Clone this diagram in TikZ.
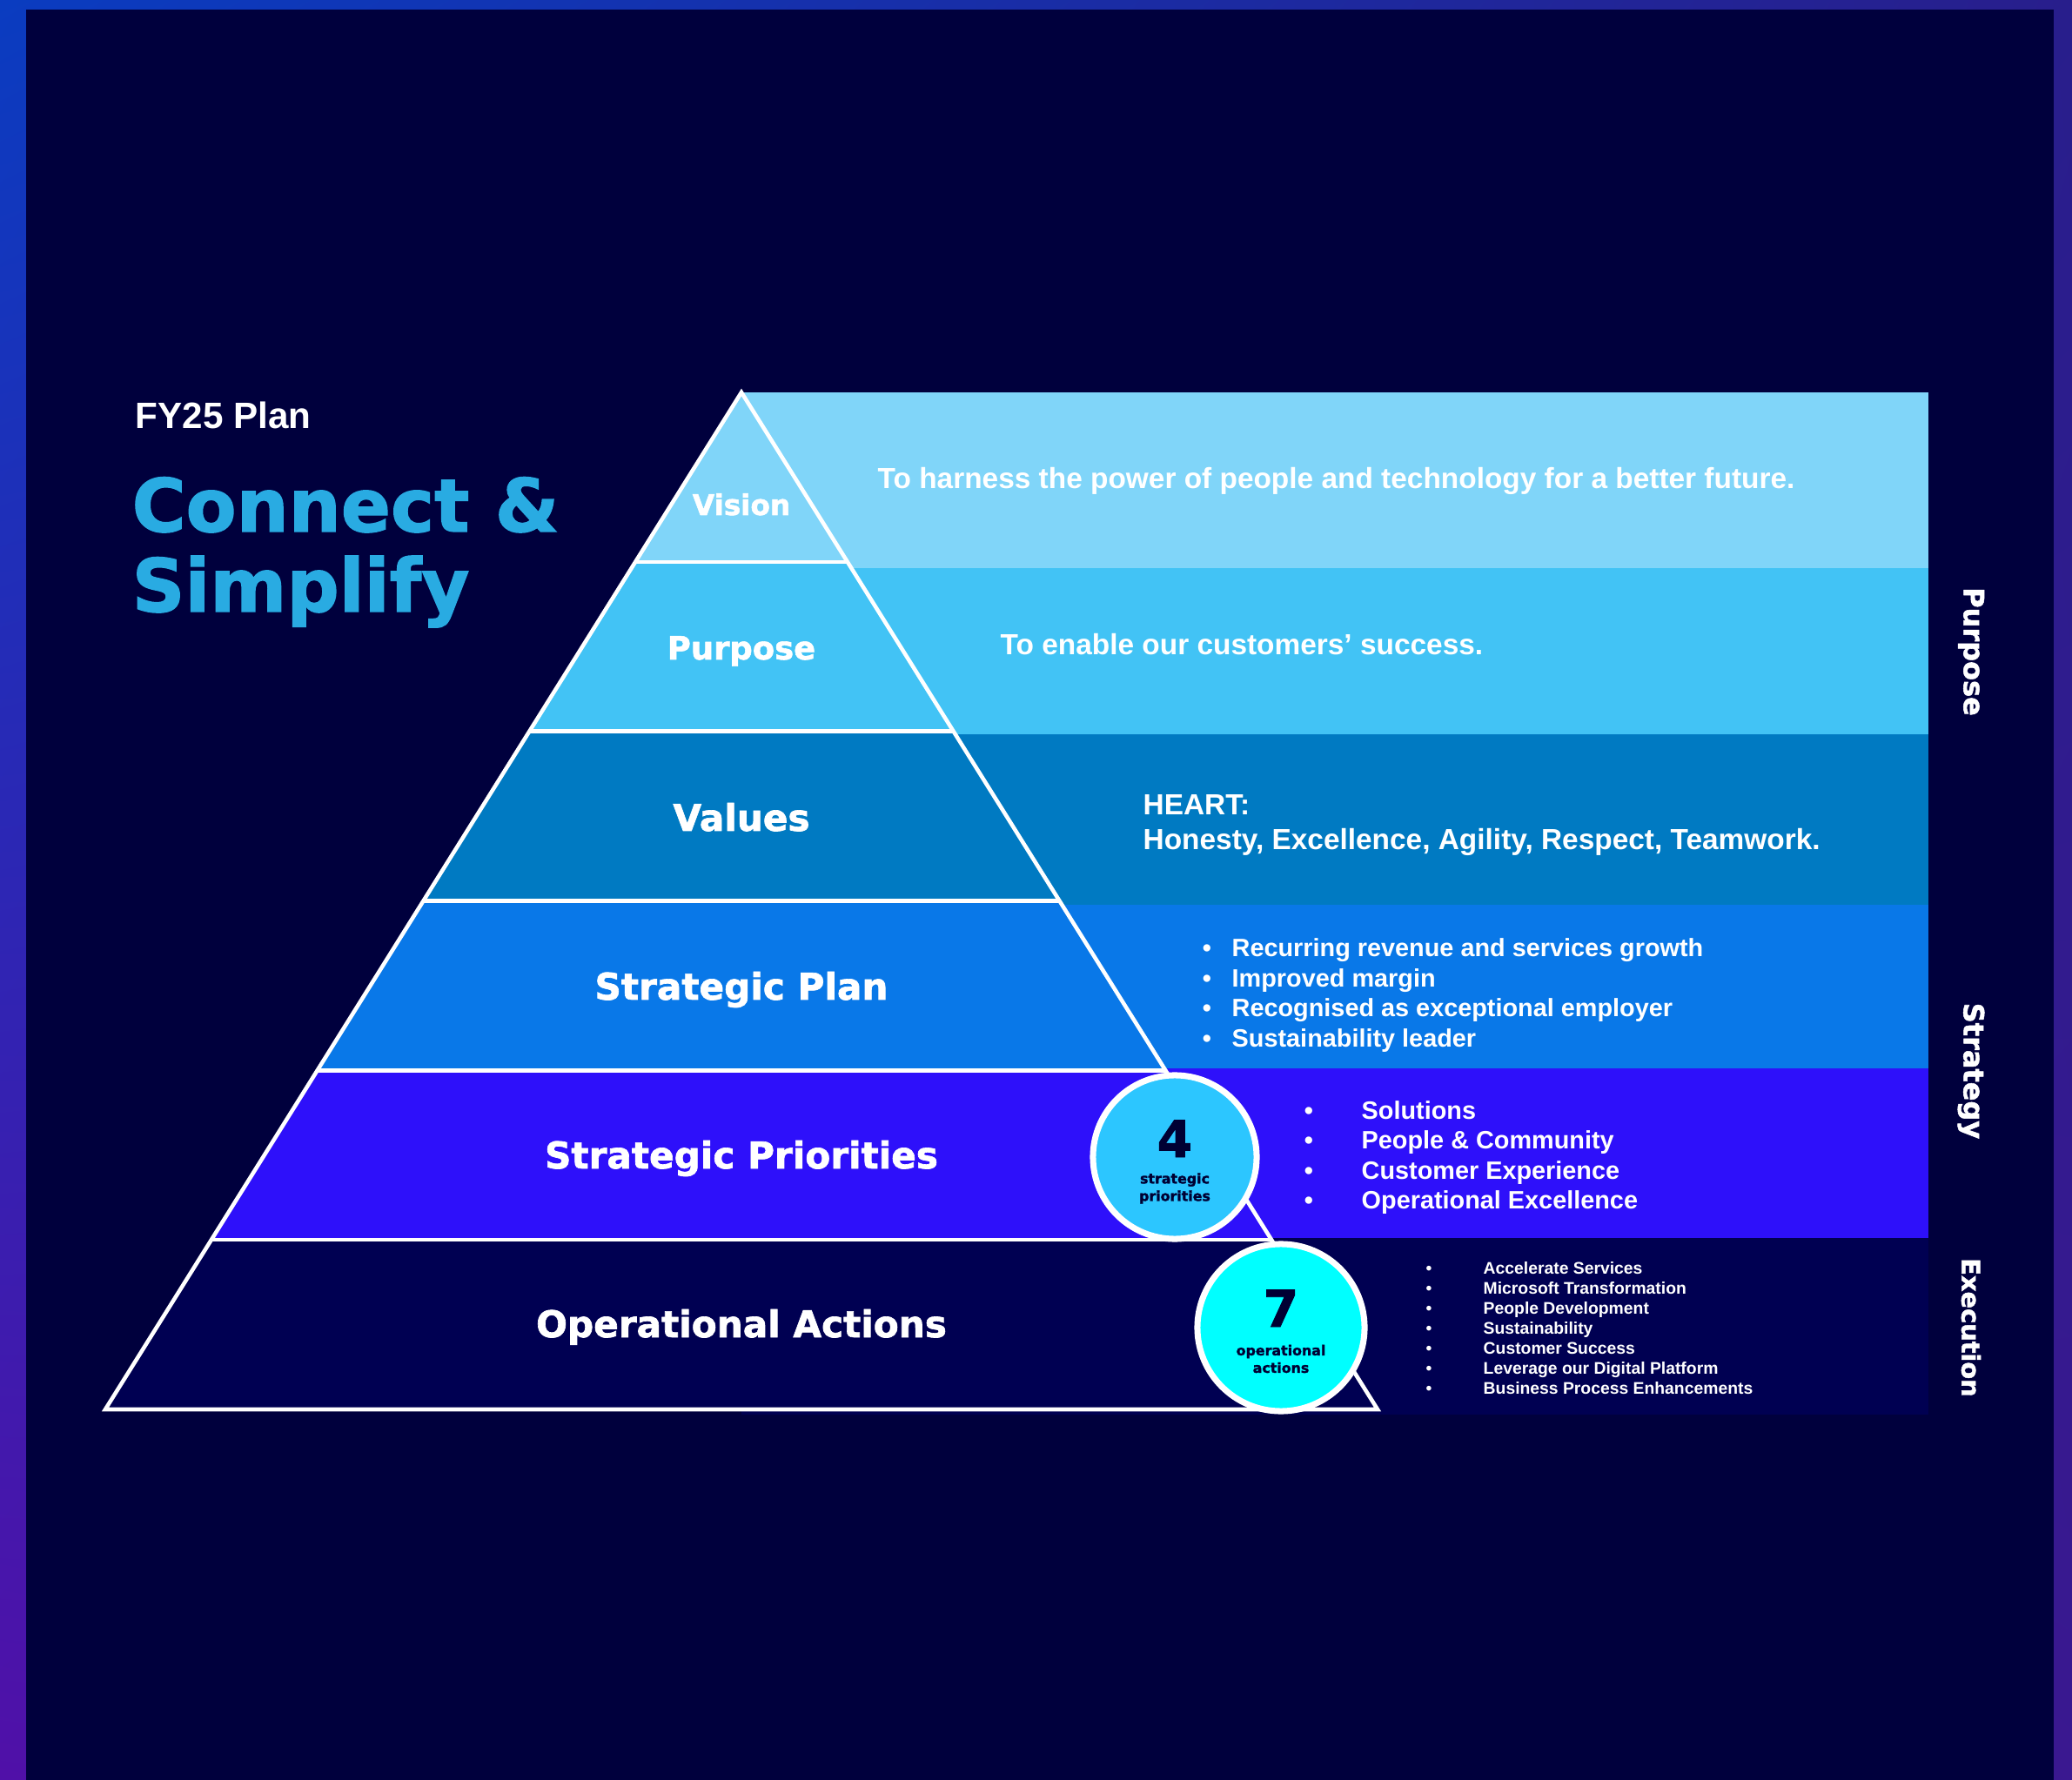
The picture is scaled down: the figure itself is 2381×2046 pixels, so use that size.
\documentclass[tikz,border=0pt]{standalone}
\usepackage{fontspec}
\setmainfont{Liberation Sans}
\newfontfamily\heavyfont{DejaVu Sans}[BoldFeatures={FakeBold=1.6}]
\usetikzlibrary{calc,shadings}

\definecolor{navy}{HTML}{00003D}
\definecolor{opsnavy}{HTML}{000052}
\definecolor{visioncol}{HTML}{80D5F9}
\definecolor{purposecol}{HTML}{42C3F5}
\definecolor{valuescol}{HTML}{007AC2}
\definecolor{plancol}{HTML}{0978E8}
\definecolor{priocol}{HTML}{2E10FA}
\definecolor{titlecol}{HTML}{29ABE2}
\definecolor{fourcol}{HTML}{2CC6FF}
\definecolor{sevencol}{HTML}{00FFFF}
\definecolor{inkcol}{HTML}{000033}
\definecolor{frametl}{HTML}{0A3CC0}
\definecolor{frametr}{HTML}{281E8C}
\definecolor{framebl}{HTML}{5010A8}
\definecolor{framebr}{HTML}{3A1890}

\begin{document}
\begin{tikzpicture}[x=0.01cm,y=-0.01cm,
    every node/.style={text=white,inner sep=0pt},
    layerlabel/.style={anchor=base,font=\heavyfont\bfseries\fontsize{12}{14}\selectfont},
    bandtext/.style={anchor=base west,font=\bfseries\fontsize{9.5}{11}\selectfont},
    plantext/.style={anchor=base west,font=\bfseries\fontsize{8.2}{10}\selectfont},
    priotext/.style={anchor=base west,font=\bfseries\fontsize{8.2}{10}\selectfont},
    opstext/.style={anchor=base west,font=\bfseries\fontsize{5.5}{7}\selectfont},
    dot/.style={anchor=base},
    edge/.style={draw=white,line width=1.3pt},
    badge/.style={circle,draw=white,line width=2pt,minimum size=1.88cm},
    bignum/.style={anchor=base,text=inkcol,font=\heavyfont\bfseries\fontsize{16.5}{18}\selectfont},
    badgetxt/.style={align=center,text=inkcol,font=\heavyfont\bfseries\fontsize{4.5}{5.7}\selectfont},
    sidelabel/.style={rotate=-90,font=\heavyfont\bfseries\fontsize{9.1}{11}\selectfont}]

    \useasboundingbox (0,0) rectangle (2381,2046);
    % frame and background
    \shade[upper left=frametl,upper right=frametr,lower left=framebl,lower right=framebr]
        (0,0) rectangle (2381,2046);
    \fill[navy] (30,11) rectangle (2360,2046);

    % bands
    \fill[visioncol] (852,451) rectangle (2216,653);
    \fill[purposecol] (852,653) rectangle (2216,844);
    \fill[valuescol] (852,844) rectangle (2216,1040);
    \fill[plancol] (852,1040) rectangle (2216,1228);
    \fill[priocol] (852,1228) rectangle (2216,1423);
    \fill[opsnavy] (852,1423) rectangle (2216,1626);

    % pyramid
    \coordinate (apex) at (852,451);
    \coordinate (bl) at (121,1620);
    \coordinate (br) at (1583,1620);
    \coordinate (l1) at ($(apex)!1/6!(bl)$);
    \coordinate (l2) at ($(apex)!2/6!(bl)$);
    \coordinate (l3) at ($(apex)!3/6!(bl)$);
    \coordinate (l4) at ($(apex)!4/6!(bl)$);
    \coordinate (l5) at ($(apex)!5/6!(bl)$);
    \coordinate (r1) at ($(apex)!1/6!(br)$);
    \coordinate (r2) at ($(apex)!2/6!(br)$);
    \coordinate (r3) at ($(apex)!3/6!(br)$);
    \coordinate (r4) at ($(apex)!4/6!(br)$);
    \coordinate (r5) at ($(apex)!5/6!(br)$);

    \fill[visioncol] (apex) -- (r1) -- (l1) -- cycle;
    \fill[purposecol] (l1) -- (r1) -- (r2) -- (l2) -- cycle;
    \fill[valuescol] (l2) -- (r2) -- (r3) -- (l3) -- cycle;
    \fill[plancol] (l3) -- (r3) -- (r4) -- (l4) -- cycle;
    \fill[priocol] (l4) -- (r4) -- (r5) -- (l5) -- cycle;
    \fill[opsnavy] (l5) -- (r5) -- (br) -- (bl) -- cycle;

    \draw[edge] (apex) -- (br) -- (bl) -- cycle;
    \draw[edge] (l1) -- (r1);
    \draw[edge] (l2) -- (r2);
    \draw[edge] (l3) -- (r3);
    \draw[edge] (l4) -- (r4);
    \draw[edge] (l5) -- (r5);

    % title
    \node[anchor=base west,font=\bfseries\fontsize{12}{14}\selectfont] (fyplan) at (155,493) {FY25 Plan};
    \node[anchor=base west,text=titlecol,font=\heavyfont\bfseries\fontsize{24}{28}\selectfont] (connect) at (151,611) {Connect \&};
    \node[anchor=base west,text=titlecol,font=\heavyfont\bfseries\fontsize{24}{28}\selectfont] (simplify) at (151,703) {Simplify};

    % layer labels
    \node[layerlabel,font=\heavyfont\bfseries\fontsize{9.3}{11}\selectfont] (vision) at (852,592) {Vision};
    \node[layerlabel,font=\heavyfont\bfseries\fontsize{10.5}{12}\selectfont] (purpose) at (852,758) {Purpose};
    \node[layerlabel] (values) at (852,955) {Values};
    \node[layerlabel] (plan) at (852,1149) {Strategic Plan};
    \node[layerlabel] (prio) at (852,1343) {Strategic Priorities};
    \node[layerlabel] (ops) at (852,1537) {Operational Actions};

    % band texts
    \node[bandtext] (visiontxt) at (1008,562) {To harness the power of people and technology for a better future.};
    \node[bandtext] (purposetxt) at (1149,753) {To enable our customers’ success.};
    \node[bandtext] (heart) at (1313,937) {HEART:};
    \node[bandtext] (valuestxt) at (1313,977) {Honesty, Excellence, Agility, Respect, Teamwork.};

    \node[dot,font=\bfseries\fontsize{8.2}{10}\selectfont] (pd1) at (1387,1100) {•};
    \node[dot,font=\bfseries\fontsize{8.2}{10}\selectfont] (pd2) at (1387,1134) {•};
    \node[dot,font=\bfseries\fontsize{8.2}{10}\selectfont] (pd3) at (1387,1168) {•};
    \node[dot,font=\bfseries\fontsize{8.2}{10}\selectfont] (pd4) at (1387,1203) {•};
    \node[plantext] (plan1) at (1415,1100) {Recurring revenue and services growth};
    \node[plantext] (plan2) at (1415,1134) {Improved margin};
    \node[plantext] (plan3) at (1415,1168) {Recognised as exceptional employer};
    \node[plantext] (plan4) at (1415,1203) {Sustainability leader};

    \node[dot,font=\bfseries\fontsize{8.2}{10}\selectfont] (sd1) at (1504,1286) {•};
    \node[dot,font=\bfseries\fontsize{8.2}{10}\selectfont] (sd2) at (1504,1320) {•};
    \node[dot,font=\bfseries\fontsize{8.2}{10}\selectfont] (sd3) at (1504,1355) {•};
    \node[dot,font=\bfseries\fontsize{8.2}{10}\selectfont] (sd4) at (1504,1389) {•};
    \node[priotext] (prio1) at (1564,1286) {Solutions};
    \node[priotext] (prio2) at (1564,1320) {People \& Community};
    \node[priotext] (prio3) at (1564,1355) {Customer Experience};
    \node[priotext] (prio4) at (1564,1389) {Operational Excellence};

    \node[dot,font=\bfseries\fontsize{5.5}{7}\selectfont] (od1) at (1642,1464) {•};
    \node[dot,font=\bfseries\fontsize{5.5}{7}\selectfont] (od2) at (1642,1487) {•};
    \node[dot,font=\bfseries\fontsize{5.5}{7}\selectfont] (od3) at (1642,1510) {•};
    \node[dot,font=\bfseries\fontsize{5.5}{7}\selectfont] (od4) at (1642,1533) {•};
    \node[dot,font=\bfseries\fontsize{5.5}{7}\selectfont] (od5) at (1642,1556) {•};
    \node[dot,font=\bfseries\fontsize{5.5}{7}\selectfont] (od6) at (1642,1579) {•};
    \node[dot,font=\bfseries\fontsize{5.5}{7}\selectfont] (od7) at (1642,1602) {•};
    \node[opstext] (ops1) at (1704,1464) {Accelerate Services};
    \node[opstext] (ops2) at (1704,1487) {Microsoft Transformation};
    \node[opstext] (ops3) at (1704,1510) {People Development};
    \node[opstext] (ops4) at (1704,1533) {Sustainability};
    \node[opstext] (ops5) at (1704,1556) {Customer Success};
    \node[opstext] (ops6) at (1704,1579) {Leverage our Digital Platform};
    \node[opstext] (ops7) at (1704,1602) {Business Process Enhancements};

    % badges
    \node[badge,fill=fourcol] (four) at (1350,1330) {};
    \node[bignum] (fournum) at (1350,1330) {4};
    \node[badgetxt] (fourtxt) at (1350,1366) {strategic\\priorities};
    \node[badge,fill=sevencol,minimum size=1.92cm] (seven) at (1472,1526) {};
    \node[bignum] (sevennum) at (1472,1525) {7};
    \node[badgetxt] (seventxt) at (1472,1562) {operational\\actions};

    % side labels
    \node[sidelabel] (sidepurpose) at (2265,749) {Purpose};
    \node[sidelabel] (sidestrategy) at (2265,1231) {Strategy};
    \node[sidelabel,font=\heavyfont\bfseries\fontsize{8.2}{10}\selectfont] (sideexec) at (2265,1526) {Execution};
\end{tikzpicture}
\end{document}
